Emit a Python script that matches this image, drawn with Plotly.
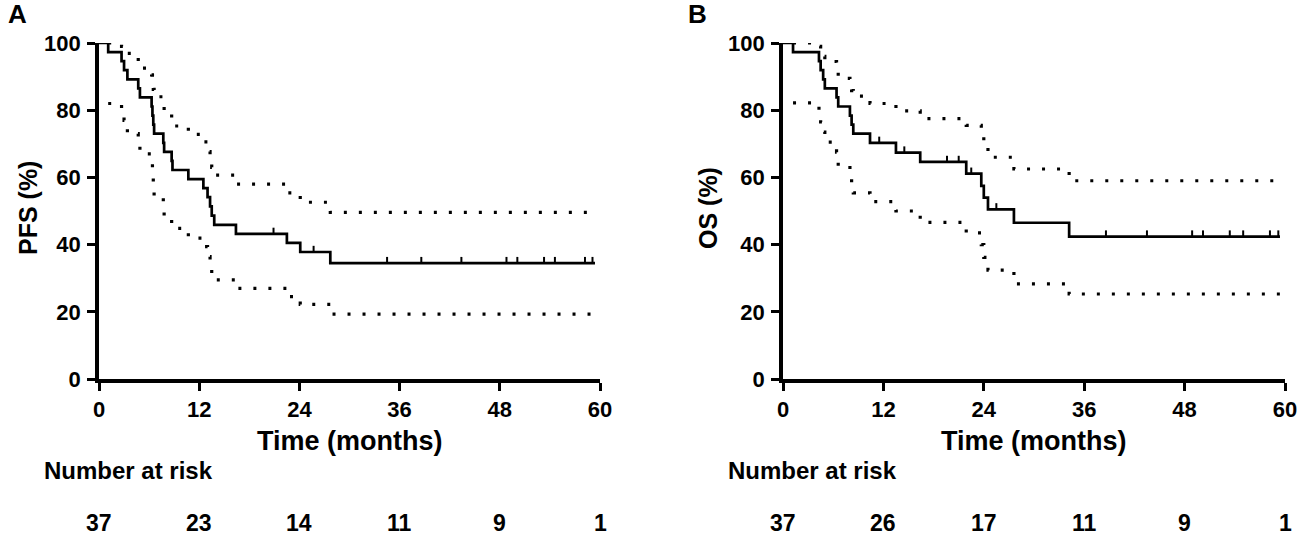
import numpy as np
import plotly.graph_objects as go

# --- data ---
risk_times = [0, 12, 24, 36, 48, 60]

# PFS (panel A)
pfs_time = [0, 1.1, 2.7, 3.0, 3.4, 4.7, 4.9, 6.3, 6.4, 6.5, 6.6, 7.7, 7.8, 8.7, 8.8,
            10.7, 12.5, 13.0, 13.3, 13.5, 13.8, 16.4, 22.5, 24.1, 27.7, 59.4]
pfs_surv = [100, 97.3, 94.6, 91.9, 89.2, 86.5, 83.8, 81.1, 78.4, 75.7, 73.0, 70.3, 67.6, 64.9, 62.2,
            59.5, 56.8, 54.1, 51.4, 48.6, 45.9, 43.2, 40.5, 37.8, 34.5, 34.5]
pfs_upper = [100, 99.0, 98.0, 96.9, 94.5, 92.5, 90.5, 88.5, 86.2, 84.0, 81.5, 79.5, 77.0, 75.3,
             72.8, 70.6, 67.7, 65.5, 63.0, 60.7, 58.0, 55.4, 52.6, 49.6, 49.6]
pfs_lower = [82.0, 79.0, 77.0, 73.0, 70.5, 67.0, 64.0, 60.5, 58.0, 54.3, 51.0, 48.5, 46.0, 44.8,
             41.9, 39.4, 36.4, 33.4, 31.5, 29.5, 27.0, 24.5, 22.2, 19.3, 19.3]
pfs_censor = [20.9, 25.7, 34.5, 38.6, 43.4, 48.8, 50.1, 53.3, 54.6, 58.2, 59.1]
pfs_risk = [37, 23, 14, 11, 9, 1]

# OS (panel B)
os_time = [0, 1.2, 4.3, 4.5, 4.8, 5.0, 6.4, 6.6, 8.0, 8.2, 8.4, 10.4, 13.5, 16.4, 21.9,
           23.7, 24.0, 24.5, 27.6, 34.2, 59.4]
os_surv = [100, 97.3, 94.6, 91.9, 89.2, 86.5, 83.8, 81.1, 78.4, 75.7, 73.0, 70.3, 67.4, 64.6, 61.1,
           57.5, 54.0, 50.5, 46.5, 42.4, 42.4]
os_upper = [100, 99.0, 97.5, 96.0, 94.5, 92.0, 89.5, 87.5, 85.8, 84.2, 82.0, 79.8, 77.5, 75.5,
            73.5, 70.5, 66.0, 62.5, 59.0, 59.0]
os_lower = [82.2, 79.5, 76.5, 73.5, 70.5, 67.5, 63.5, 60.0, 57.5, 55.4, 52.8, 50.0, 46.6, 43.5,
            40.0, 36.2, 32.4, 28.3, 25.3, 25.3]
os_censor = [11.5, 14.5, 19.6, 21.0, 22.5, 25.5, 38.6, 43.5, 48.9, 50.2, 53.4, 55.0, 58.2, 59.2]
os_risk = [37, 26, 17, 11, 9, 1]

W, H = 1302, 543
FONT = "Liberation Sans, Arial, sans-serif"


def step_value(times, values, t):
    """value of a right-continuous step curve at time t"""
    idx = np.searchsorted(times, t, side="right") - 1
    return np.asarray(values)[idx]


def add_panel(fig, xa, ya, times, surv, upper, lower, censor):
    axes = dict(xaxis=xa, yaxis=ya)
    line_kw = dict(mode="lines", line_shape="hv", cliponaxis=False, showlegend=False, hoverinfo="skip")
    for ci in (upper, lower):
        fig.add_trace(go.Scatter(x=times[1:], y=ci, line=dict(color="black", width=3.2, dash="3px,12px"),
                                 **line_kw, **axes))
    fig.add_trace(go.Scatter(x=times, y=surv, line=dict(color="black", width=2.7), **line_kw, **axes))
    # censor ticks sit just above the curve
    cy = step_value(times, surv, np.array(censor)) + 1.0
    fig.add_trace(go.Scatter(x=censor, y=cy, mode="markers", cliponaxis=False, showlegend=False,
                             marker=dict(symbol="line-ns", size=4, line=dict(color="black", width=2)),
                             hoverinfo="skip", **axes))


fig = go.Figure()
add_panel(fig, "x", "y", pfs_time, pfs_surv, pfs_upper, pfs_lower, pfs_censor)
add_panel(fig, "x2", "y2", os_time, os_surv, os_upper, os_lower, os_censor)

ax_common = dict(showline=True, linewidth=3.8, linecolor="black", ticks="outside", ticklen=8,
                 tickwidth=3, tickcolor="black", showgrid=False, zeroline=False, automargin=False,
                 tickfont=dict(family=FONT, size=22, color="black", weight="bold"))
ydom = [1 - 379 / H, 1 - 43 / H]
fig.update_layout(
    width=W, height=H,
    margin=dict(l=0, r=0, t=0, b=0),
    paper_bgcolor="white", plot_bgcolor="white",
    font=dict(family=FONT, color="black", weight="bold"),
    xaxis=dict(domain=[99 / W, 600 / W], range=[0, 60], dtick=12, anchor="y", ticklabelstandoff=0, **ax_common),
    yaxis=dict(domain=ydom, range=[0, 100], dtick=20, anchor="x", ticklabelstandoff=2, **ax_common),
    xaxis2=dict(domain=[783 / W, 1285 / W], range=[0, 60], dtick=12, anchor="y2", ticklabelstandoff=0, **ax_common),
    yaxis2=dict(domain=ydom, range=[0, 100], dtick=20, anchor="x2", ticklabelstandoff=2, **ax_common),
)


def label(text, x, y, size, xref="paper", xanchor="center", **kw):
    fig.add_annotation(text=text, x=x, y=y, xref=xref, yref="paper", showarrow=False,
                       xanchor=xanchor, yanchor="middle",
                       font=dict(family=FONT, size=size, color="black", weight="bold"), **kw)


for xr, ytitle, ytx, letter, lx, risk, nx in (
    ("x", "PFS (%)", 28, "A", 17, pfs_risk, 42),
    ("x2", "OS (%)", 708, "B", 697, os_risk, 726),
):
    label(letter, lx / W, 1 - 14 / H, 26)
    label(ytitle, ytx / W, 1 - 208 / H, 25, textangle=-90)
    label("Time (months)", 30, 1 - 441 / H, 27, xref=xr)
    label("Number at risk", nx / W, 1 - 470 / H, 24, xanchor="left")
    for t, n in zip(risk_times, risk):
        label(str(n), t, 1 - 523 / H, 23, xref=xr)

# page body has a default 8px margin; drop it so the figure fills the window exactly
fig.write_html("out.html", config={"displayModeBar": False},
               post_script="document.body.style.margin='0';")
